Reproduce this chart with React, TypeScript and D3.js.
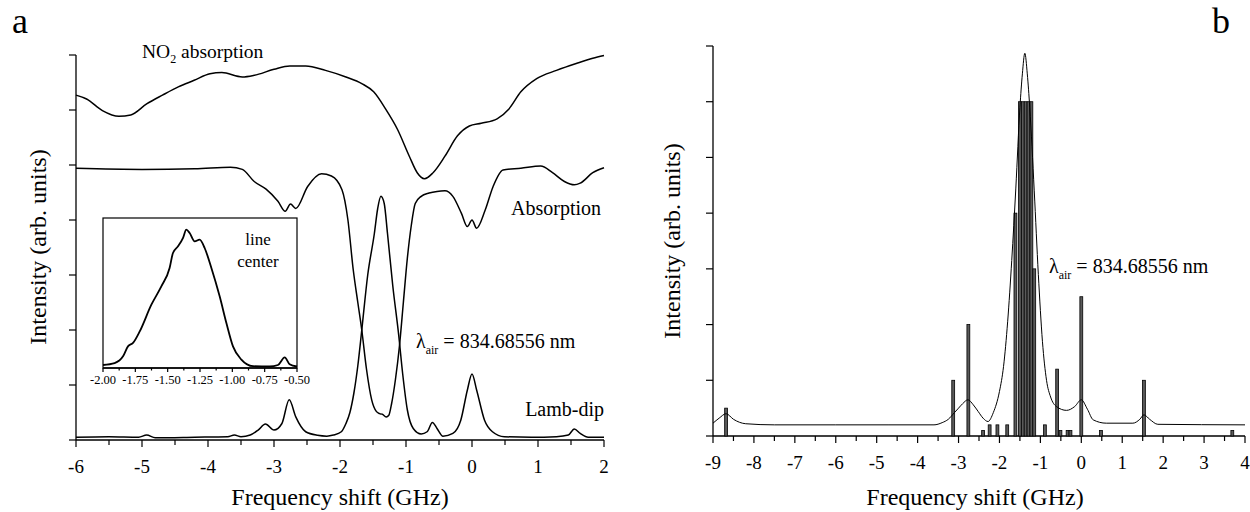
import * as d3 from "d3";

const W = 1250;
const H = 512;
const SERIF = '"Liberation Serif", "Times New Roman", serif';
const TXT = { fontFamily: SERIF };

// ---- panel a: NO2 absorption trace
const no2X = [-6, -5.84, -5.6, -5.35, -5.17, -4.93, -4.69, -4.45, -4.21, -3.97, -3.79, -3.48, -3.3, -3, -2.76, -2.52, -2.22, -1.91, -1.67, -1.49, -1.31, -1.13, -0.95, -0.83, -0.72, -0.59, -0.41, -0.22, -0.04, 0.14, 0.38, 0.56, 0.74, 0.98, 1.28, 1.59, 1.83, 2];
const no2Y = [6.27, 6.2, 5.99, 5.885, 5.91, 6.11, 6.27, 6.42, 6.54, 6.66, 6.68, 6.6, 6.63, 6.74, 6.8, 6.8, 6.72, 6.6, 6.48, 6.33, 6.02, 5.65, 5.16, 4.86, 4.75, 4.86, 5.16, 5.53, 5.71, 5.76, 5.84, 6.02, 6.33, 6.57, 6.72, 6.85, 6.94, 6.99];

// ---- panel a: absorption trace
const absX = [-6, -5, -4.2, -3.66, -3.48, -3.3, -3.12, -2.94, -2.83, -2.75, -2.67, -2.49, -2.28, -2.13, -1.97, -1.88, -1.8, -1.73, -1.67, -1.6, -1.52, -1.45, -1.4, -1.36, -1.3, -1.26, -1.22, -1.16, -1.1, -1.04, -0.98, -0.92, -0.86, -0.77, -0.65, -0.53, -0.41, -0.29, -0.16, -0.07, 0, 0.07, 0.2, 0.32, 0.47, 0.74, 1.04, 1.22, 1.4, 1.55, 1.64, 1.83, 2];
const absY = [4.94, 4.92, 4.93, 4.96, 4.92, 4.7, 4.56, 4.34, 4.16, 4.29, 4.21, 4.61, 4.84, 4.8, 4.55, 4.0, 3.1, 2.5, 2.0, 1.3, 0.73, 0.52, 0.48, 0.47, 0.42, 0.45, 0.65, 1.1, 1.7, 2.5, 3.3, 3.9, 4.3, 4.43, 4.49, 4.52, 4.53, 4.43, 4.12, 3.88, 4.0, 3.85, 4.18, 4.61, 4.91, 4.94, 4.98, 4.86, 4.7, 4.64, 4.67, 4.86, 4.95];

// ---- panel a: Lamb-dip trace
const lambX = [-6, -5.5, -5.05, -4.93, -4.8, -4.2, -3.7, -3.6, -3.5, -3.36, -3.24, -3.13, -3.0, -2.88, -2.77, -2.67, -2.52, -2.34, -2.2, -2.1, -1.98, -1.91, -1.85, -1.79, -1.73, -1.67, -1.58, -1.48, -1.43, -1.38, -1.33, -1.28, -1.2, -1.11, -1.05, -0.98, -0.89, -0.77, -0.68, -0.6, -0.53, -0.44, -0.29, -0.17, -0.07, 0, 0.07, 0.19, 0.31, 0.49, 0.9, 1.28, 1.46, 1.55, 1.64, 1.76, 2];
const lambY = [0.05, 0.06, 0.05, 0.09, 0.04, 0.05, 0.06, 0.09, 0.06, 0.09, 0.18, 0.29, 0.18, 0.3, 0.73, 0.42, 0.15, 0.085, 0.07, 0.09, 0.15, 0.3, 0.5, 0.85, 1.35, 2.0, 3.0, 3.75, 4.2, 4.43, 4.3, 3.75, 2.8, 1.9, 1.2, 0.55, 0.21, 0.11, 0.15, 0.32, 0.21, 0.07, 0.12, 0.36, 0.91, 1.2, 0.91, 0.36, 0.15, 0.06, 0.05, 0.06, 0.09, 0.2, 0.12, 0.05, 0.05];

// ---- panel a inset: line center
const insX = [-2, -1.91, -1.845, -1.807, -1.768, -1.716, -1.626, -1.549, -1.485, -1.459, -1.42, -1.381, -1.356, -1.33, -1.291, -1.253, -1.214, -1.162, -1.098, -1.046, -0.995, -0.93, -0.84, -0.711, -0.647, -0.595, -0.557, -0.5];
const insY = [0.02, 0.033, 0.078, 0.144, 0.167, 0.244, 0.422, 0.544, 0.667, 0.767, 0.811, 0.867, 0.922, 0.9, 0.844, 0.856, 0.8, 0.667, 0.478, 0.3, 0.144, 0.056, 0.012, 0.01, 0.02, 0.071, 0.025, 0.01];

// ---- panel b: measured profile
const bX = [-9, -8.85, -8.68, -8.5, -8.2, -7.5, -6, -4.7, -3.6, -3.4, -3.25, -3.1, -3.0, -2.9, -2.77, -2.64, -2.52, -2.4, -2.28, -2.15, -2.0, -1.9, -1.8, -1.7, -1.6, -1.5, -1.44, -1.38, -1.32, -1.26, -1.15, -1.05, -0.95, -0.85, -0.75, -0.61, -0.36, -0.16, 0, 0.15, 0.29, 0.61, 1.26, 1.43, 1.53, 1.67, 1.87, 4];
const bY = [0.23, 0.32, 0.4, 0.3, 0.22, 0.2, 0.2, 0.2, 0.2, 0.24, 0.3, 0.42, 0.5, 0.58, 0.65, 0.56, 0.44, 0.32, 0.26, 0.42, 0.8, 1.25, 2.05, 3.15, 4.45, 5.9, 6.5, 6.87, 6.5, 5.9, 4.4, 2.9, 1.7, 1.0, 0.7, 0.53, 0.46, 0.53, 0.65, 0.48, 0.29, 0.23, 0.23, 0.3, 0.38, 0.3, 0.21, 0.2];

// ---- panel b: stick spectrum
const barX = [-8.68, -3.13, -2.76, -2.4, -2.24, -2.05, -1.81, -1.61, -1.5, -1.43, -1.36, -1.29, -1.22, -1.15, -0.89, -0.59, -0.51, -0.335, -0.265, 0, 0.48, 1.53, 3.69];
const barH = [0.5, 1, 2, 0.1, 0.2, 0.2, 0.2, 4, 6, 6, 6, 6, 6, 3, 0.2, 1.2, 0.1, 0.1, 0.1, 2.5, 0.1, 1, 0.1];
const barW = 0.07;

// ---- ticks
const ticksA = d3.range(-6, 3, 1);
const minorA = d3.range(-5.5, 2, 1);
const ticksB = d3.range(-9, 5, 1);
const minorB = d3.range(-8.5, 4, 1);
const ticksY = d3.range(0, 8, 1);
const ticksIns = [-2, -1.75, -1.5, -1.25, -1, -0.75, -0.5];
const minorIns = [-1.875, -1.625, -1.375, -1.125, -0.875, -0.625];

type Scale = d3.ScaleLinear<number, number>;

function BottomAxis({ x, y0, major, minor, fmt, size, len, minLen, dy }: { x: Scale; y0: number; major: number[]; minor: number[]; fmt: (d: number) => string; size: number; len: number; minLen: number; dy: number }) {
  const [a, b] = x.range();
  return (
    <g>
      <line x1={a} x2={b} y1={y0} y2={y0} stroke="#000" strokeWidth={1.3} />
      {major.map((d) => (
        <g key={"M" + d}>
          <line x1={x(d)} x2={x(d)} y1={y0} y2={y0 + len} stroke="#000" strokeWidth={1.2} />
          <text x={x(d)} y={y0 + dy} textAnchor="middle" fontSize={size} fontFamily={SERIF} style={TXT}>{fmt(d)}</text>
        </g>
      ))}
      {minor.map((d) => (
        <line key={"m" + d} x1={x(d)} x2={x(d)} y1={y0} y2={y0 + minLen} stroke="#000" strokeWidth={1.2} />
      ))}
    </g>
  );
}

function LeftAxis({ y, x0 }: { y: Scale; x0: number }) {
  const [a, b] = y.range();
  return (
    <g>
      <line x1={x0} x2={x0} y1={a} y2={b} stroke="#000" strokeWidth={1.3} />
      {ticksY.map((d) => (
        <line key={d} x1={x0 - 7} x2={x0} y1={y(d)} y2={y(d)} stroke="#000" strokeWidth={1.2} />
      ))}
    </g>
  );
}

function Label({ x, y, size, anchor, rotate, children }: { x: number; y: number; size: number; anchor?: string; rotate?: boolean; children: any }) {
  return (
    <text
      x={rotate ? 0 : x}
      y={rotate ? 0 : y}
      transform={rotate ? `translate(${x},${y}) rotate(-90)` : undefined}
      fontSize={size}
      textAnchor={anchor ?? "start"}
      fontFamily={SERIF}
      style={TXT}
    >
      {children}
    </text>
  );
}

export default function App() {
  const xa = d3.scaleLinear().domain([-6, 2]).range([76, 604]);
  const ya = d3.scaleLinear().domain([0, 7]).range([440, 55]);
  const xi = d3.scaleLinear().domain([-2, -0.5]).range([103, 297]);
  const yi = d3.scaleLinear().domain([0, 1]).range([368, 218]);
  const xb = d3.scaleLinear().domain([-9, 4]).range([713, 1245]);
  const yb = d3.scaleLinear().domain([0, 7]).range([436, 46]);

  const lineA = d3.line<[number, number]>().x((d) => xa(d[0])).y((d) => ya(d[1])).curve(d3.curveMonotoneX);
  const lineI = d3.line<[number, number]>().x((d) => xi(d[0])).y((d) => yi(d[1])).curve(d3.curveMonotoneX);
  const lineB = d3.line<[number, number]>().x((d) => xb(d[0])).y((d) => yb(d[1])).curve(d3.curveMonotoneX);

  const fmtInt = (d: number) => String(d);
  const fmtIns = (d: number) => d.toFixed(2);

  const lambda = (
    <>
      λ<tspan fontSize={12} dy={6}>air</tspan>
      <tspan dy={-6}> = 834.68556 nm</tspan>
    </>
  );

  return (
    <svg width={W} height={H} fontFamily={SERIF} style={{ position: "absolute", left: 0, top: 0, display: "block", fontFamily: SERIF }}>
      <style>{`text, tspan { font-family: "Liberation Serif", "Times New Roman", serif !important; }`}</style>
      <rect width={W} height={H} fill="#fff" />

      {/* panel a */}
      <Label x={12} y={33} size={36}>a</Label>
      <LeftAxis y={ya} x0={xa(-6)} />
      <BottomAxis x={xa} y0={ya(0)} major={ticksA} minor={minorA} fmt={fmtInt} size={19} len={7} minLen={5} dy={33} />
      <g fill="none" stroke="#000" strokeWidth={1.5} strokeLinejoin="round">
        <path d={lineA(d3.zip(no2X, no2Y) as [number, number][]) ?? ""} />
        <path d={lineA(d3.zip(absX, absY) as [number, number][]) ?? ""} />
        <path d={lineA(d3.zip(lambX, lambY) as [number, number][]) ?? ""} />
      </g>
      <Label x={142} y={58} size={19.5}>NO<tspan fontSize={12} dy={5}>2</tspan><tspan dy={-5}> absorption</tspan></Label>
      <Label x={601} y={215} size={20} anchor="end">Absorption</Label>
      <Label x={604} y={416} size={20} anchor="end">Lamb-dip</Label>
      <Label x={416} y={348} size={20}>{lambda}</Label>
      <Label x={340} y={505} size={24} anchor="middle">Frequency shift (GHz)</Label>
      <Label x={46} y={247} size={24} anchor="middle" rotate>Intensity (arb. units)</Label>

      {/* inset */}
      <rect x={xi(-2)} y={yi(1)} width={xi(-0.5) - xi(-2)} height={yi(0) - yi(1)} fill="#fff" stroke="#000" strokeWidth={1.2} />
      <BottomAxis x={xi} y0={yi(0)} major={ticksIns} minor={minorIns} fmt={fmtIns} size={12.5} len={4} minLen={2.5} dy={16} />
      <path d={lineI(d3.zip(insX, insY) as [number, number][]) ?? ""} fill="none" stroke="#000" strokeWidth={1.8} />
      <Label x={258} y={245} size={17} anchor="middle">line</Label>
      <Label x={258} y={267} size={17} anchor="middle">center</Label>

      {/* panel b */}
      <Label x={1212} y={33} size={36}>b</Label>
      <LeftAxis y={yb} x0={xb(-9)} />
      <BottomAxis x={xb} y0={yb(0)} major={ticksB} minor={minorB} fmt={fmtInt} size={19} len={7} minLen={5} dy={33} />
      <g fill="#5a5a5a" stroke="#000" strokeWidth={0.8}>
        {barX.map((d, i) => (
          <rect key={i} x={xb(d - barW / 2)} y={yb(barH[i])} width={xb(barW) - xb(0)} height={yb(0) - yb(barH[i])} />
        ))}
      </g>
      <path d={lineB(d3.zip(bX, bY) as [number, number][]) ?? ""} fill="none" stroke="#000" strokeWidth={1} />
      <Label x={1049} y={273} size={20}>{lambda}</Label>
      <Label x={975} y={505} size={24} anchor="middle">Frequency shift (GHz)</Label>
      <Label x={680} y={241} size={24} anchor="middle" rotate>Intensity (arb. units)</Label>
    </svg>
  );
}
